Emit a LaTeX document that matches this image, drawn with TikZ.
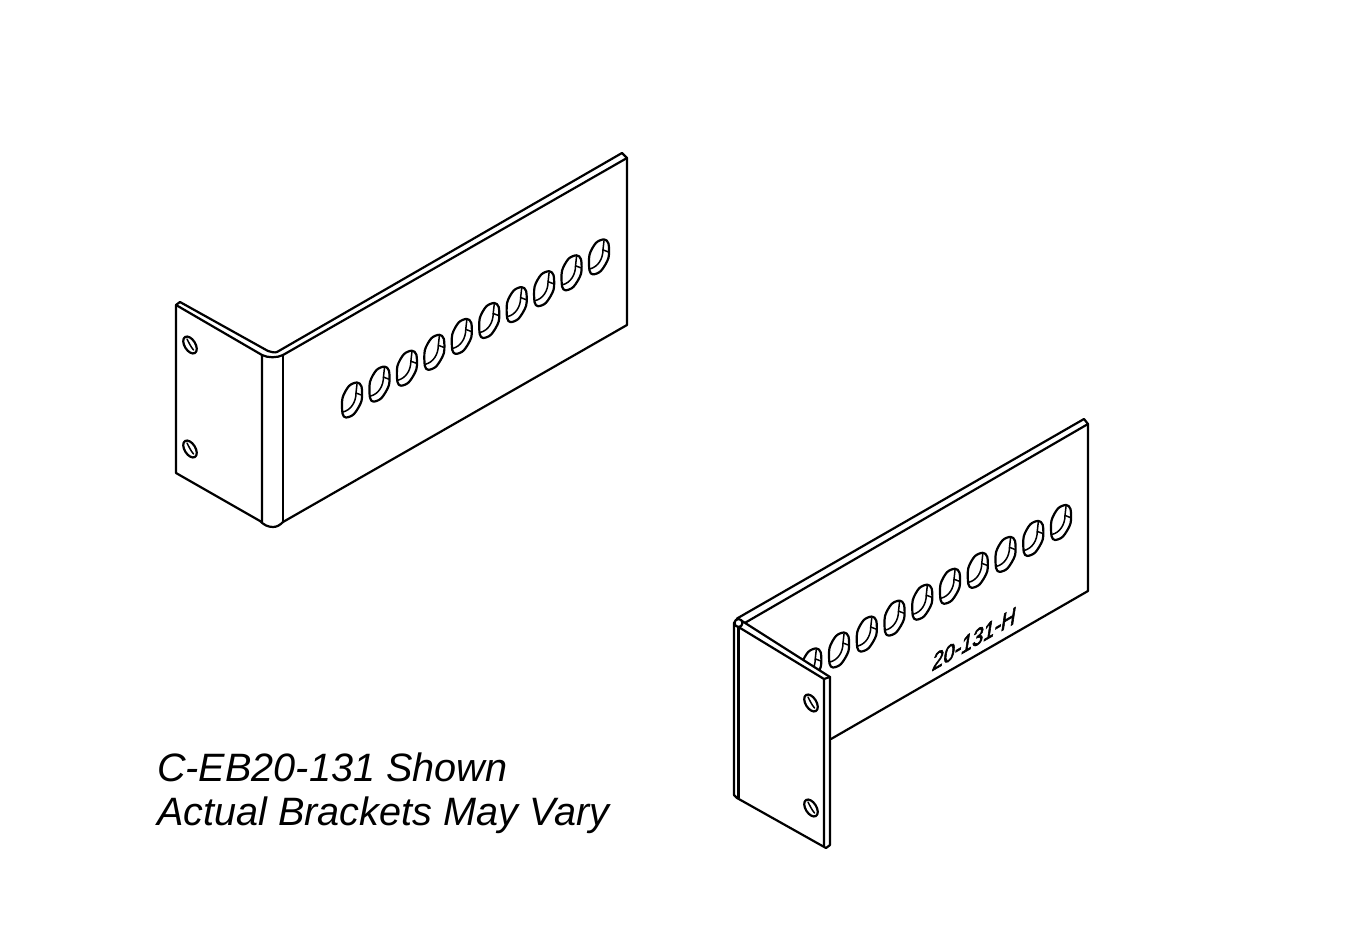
\documentclass[tikz,border=0pt]{standalone}
\usepackage{fontspec}
\setmainfont{Liberation Sans}
\tikzset{
  edge/.style={line width=2.2pt,line join=round,line cap=round,black},
  thin edge/.style={line width=1.5pt,line join=round,line cap=round,black},
  caption/.style={anchor=base west,inner sep=0pt,font=\fontsize{39.6}{44}\selectfont\itshape},
  partno/.style={inner sep=0pt,font=\fontsize{23}{28}\selectfont\itshape\addfontfeature{FakeBold=3},cm={.866,.5,0,1,(0,0)},transform shape}
}
% oblong slot with the visible wall thickness
\newcommand{\bslot}[2]{%
  \begin{scope}[shift={(#1,#2)}]
    \draw[edge,fill=white] plot[smooth cycle,tension=0.5] coordinates {(5,-17.5) (9.5,-13.5) (9.5,1) (2,14) (-6,17.5) (-9.5,13.5) (-9.5,-2) (-3,-14)};
    \draw[thin edge] (5,-16) -- (4,-7) -- (9.3,-5);
    \draw[thin edge] (4,-7) .. controls (4,2) and (-1,10) .. (-9,12);
  \end{scope}}
% small tilted mounting hole
\newcommand{\bhole}[2]{%
  \begin{scope}[shift={(#1,#2)}]
    \draw[edge,fill=white,rotate=32] (0,0) ellipse (5.4 and 9.4);
    \draw[thin edge] (-3,-6) .. controls (-1,-2) and (1,2) .. (3.5,5);
  \end{scope}}
\begin{document}
\begin{tikzpicture}[x=1pt,y=-1pt]
\useasboundingbox (0,0) rectangle (1355,949);
\fill[white] (0,0) rectangle (1355,949);

% ---- upper bracket
\draw[edge] (176,305) -- (176,473) -- (260,521) .. controls (264,525) and (268,527) .. (273,527) .. controls (277,527) and (280,525) .. (283,522) -- (627,325) -- (627,158) -- (622,153) -- (277,352) .. controls (275,353) and (271,352) .. (268,351) -- (180,302) -- cycle;
\draw[edge] (176,305) -- (262,355) -- (262,522);
\draw[edge] (283,355) -- (283,522);
\draw[edge] (283,355) -- (627,158);
\draw[edge] (262,355) .. controls (268,358) and (277,358) .. (283,355);
\bhole{190}{345}
\bhole{190}{449}
\foreach \i in {0,...,9} {\bslot{352+27.44*\i}{400-15.9*\i}}

% ---- lower bracket
\bslot{811.25}{665.9}
\foreach \i in {0,...,8} {\bslot{839+27.75*\i}{650-15.94*\i}}
\draw[edge] (831,739) -- (1088,591) -- (1088,424) -- (1084,419) -- (737,618.5);
\draw[edge] (743,624) -- (1088,424);
\draw[edge,fill=white] (734,623) -- (737,619) -- (742,621) -- (830,677) -- (830,845) -- (826,848) -- (737,798) -- (734,795) -- cycle;
\draw[edge] (738.5,627) -- (738.5,798);
\draw[edge] (738.5,627) -- (824,679) -- (824,846);
\draw[edge] (824,679) -- (830,677);
\draw[edge,fill=white] (738.5,623) circle (4);
\bhole{811}{703}
\bhole{811}{808}
\begin{scope}[shift={(974,639)}]
\node[partno] (partno) at (0,0) {20-131-H};
\end{scope}

% ---- caption
\node[caption] (line1) at (157,781) {C-EB20-131 Shown};
\node[caption] (line2) at (157,825) {Actual Brackets May Vary};
\end{tikzpicture}
\end{document}
